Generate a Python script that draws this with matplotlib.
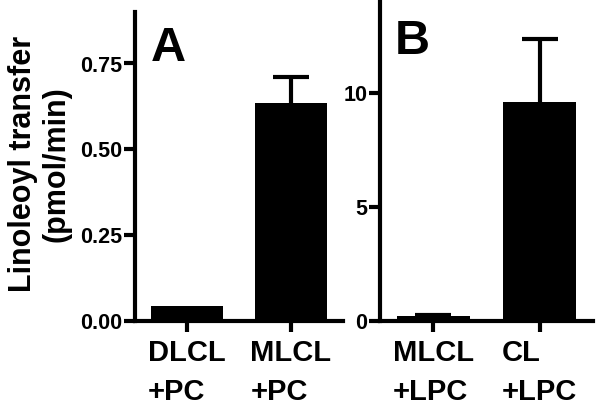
import matplotlib
matplotlib.use("Agg")
import matplotlib.pyplot as plt

plt.rcParams['font.family'] = ['Liberation Sans', 'DejaVu Sans']
plt.rcParams['font.weight'] = 'bold'

# panel A
labels_a = ['DLCL\n+PC', 'MLCL\n+PC']
values_a = [0.045, 0.635]
errors_a = [0.0, 0.075]
yticks_a = [0.0, 0.25, 0.50, 0.75]

# panel B
labels_b = ['MLCL\n+LPC', 'CL\n+LPC']
values_b = [0.2, 9.6]
errors_b = [0.08, 2.8]
yticks_b = [0, 5, 10]

fig = plt.figure(figsize=(6.01, 4.11), dpi=100)
ax_a = fig.add_axes([135 / 601, 90 / 411, 208 / 601, 309 / 411])
ax_b = fig.add_axes([380 / 601, 90 / 411, 213 / 601, 321 / 411])


def style(ax, labels, values, errors, yticks, ylim, fmt, letter, letter_pos):
    x = list(range(len(values)))
    ax.bar(x, values, width=0.69, color='black', zorder=2)
    # only bars with an error, drawn behind the bar so just the upper part shows
    xe = [i for i in x if errors[i] > 0]
    ax.errorbar(xe, [values[i] for i in xe], yerr=[errors[i] for i in xe],
                fmt='none', ecolor='black', elinewidth=3, capsize=13,
                capthick=3, zorder=1)
    ax.set_xlim(-0.5, 1.5)
    ax.set_ylim(*ylim)
    ax.set_xticks(x)
    ax.set_xticklabels(labels, fontsize=21, fontweight='bold',
                       multialignment='left', linespacing=1.5)
    ax.set_yticks(yticks)
    ax.set_yticklabels([fmt.format(v) for v in yticks], fontsize=15.5,
                       fontweight='bold')
    for s in ['top', 'right']:
        ax.spines[s].set_visible(False)
    for s in ['left', 'bottom']:
        ax.spines[s].set_linewidth(3)
    ax.tick_params(axis='both', width=3, length=8)
    ax.tick_params(axis='y', pad=1)
    ax.tick_params(axis='x', pad=5)
    fig.text(letter_pos[0] / 601, 1 - letter_pos[1] / 411, letter,
             fontsize=35, fontweight='bold', ha='left', va='top')


style(ax_a, labels_a, values_a, errors_a, yticks_a, (0, 0.9),
      '{:.2f}', 'A', (151, 26))
style(ax_b, labels_b, values_b, errors_b, yticks_b, (0, 14.1),
      '{:d}', 'B', (395, 19))

fig.text(40 / 601, 1 - 164 / 411, 'Linoleoyl transfer\n(pmol/min)',
         rotation=90, ha='center', va='center', fontsize=22,
         fontweight='bold', linespacing=1.15)

fig.savefig('out.png', dpi=100)
